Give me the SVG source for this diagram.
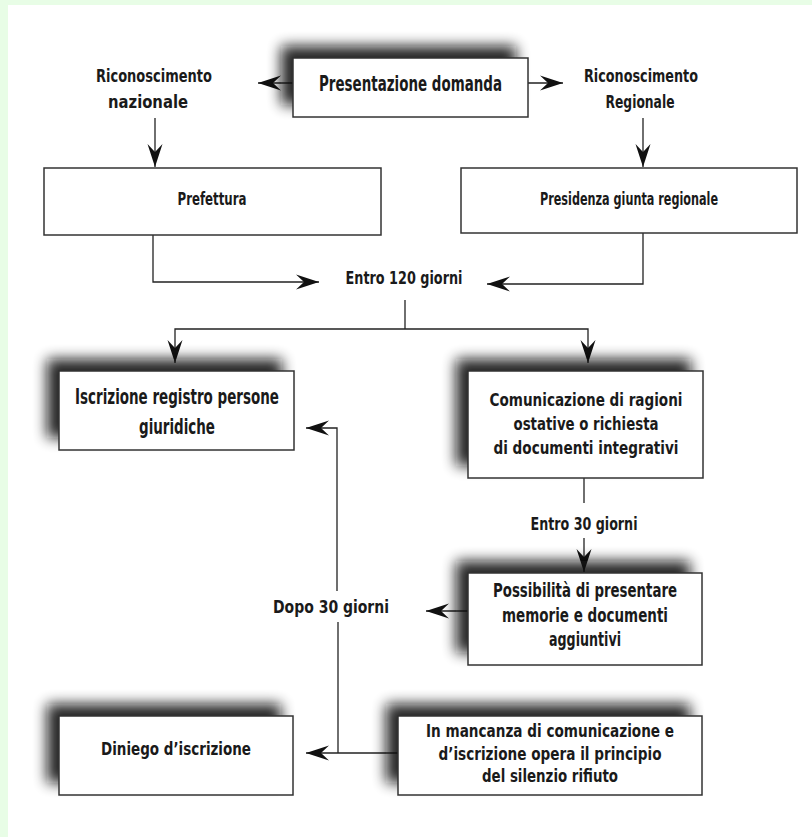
<svg xmlns="http://www.w3.org/2000/svg" width="812" height="837" viewBox="0 0 812 837">
<style>
.t{font-family:"DejaVu Sans","Liberation Sans",sans-serif;font-weight:bold;fill:#1a1a1a;text-anchor:middle}
.box{fill:#fff;stroke:#333;stroke-width:1.5}
.sh{fill:#111;opacity:0.9}
.c{fill:none;stroke:#222;stroke-width:1.3}
.a{marker-end:url(#arr)}
</style>
<defs>
<filter id="blur" filterUnits="userSpaceOnUse" x="0" y="0" width="812" height="837"><feGaussianBlur stdDeviation="7"/></filter>
<marker id="arr" markerUnits="userSpaceOnUse" markerWidth="28" markerHeight="20" viewBox="-25 -10 27 20" refX="0" refY="0" orient="auto">
<path d="M0,0 L-23,-7.5 L-15,0 L-23,7.5 Z" fill="#111"/>
</marker>
</defs>
<rect x="0" y="0" width="812" height="837" fill="#e8fde6"/>
<rect x="8" y="5" width="804" height="832" fill="#fff"/>

<g id="connectors">
<path class="c a" d="M293,83 H258"/>
<path class="c a" d="M528,83 H563"/>
<path class="c a" d="M155,118 V167"/>
<path class="c a" d="M643,118 V167"/>
<path class="c a" d="M153,235 V282 H319"/>
<path class="c a" d="M643,233 V284 H487"/>
<path class="c" d="M405,300 V329"/>
<path class="c a" d="M405,329 H175 V363"/>
<path class="c a" d="M405,329 H588 V363"/>
<path class="c" d="M584,478 V503"/>
<path class="c a" d="M584,538 V572"/>
<path class="c a" d="M468,611 H426"/>
<path class="c a" d="M337,591 V428 H306"/>
<path class="c" d="M338,622 V753"/>
<path class="c a" d="M398,753 H306"/>
</g>

<g id="presentazione">
<rect class="sh" x="281" y="46" width="235" height="59" filter="url(#blur)"/>
<rect class="box" x="293" y="58" width="235" height="59"/>
<text class="t" x="410.5" y="91" font-size="21.5" textLength="183" lengthAdjust="spacingAndGlyphs">Presentazione domanda</text>
</g>

<g id="ric-nazionale">
<text class="t" x="154" y="82" font-size="17.5" textLength="116" lengthAdjust="spacingAndGlyphs">Riconoscimento</text>
<text class="t" x="148" y="108" font-size="17.5" textLength="80" lengthAdjust="spacingAndGlyphs">nazionale</text>
</g>

<g id="ric-regionale">
<text class="t" x="641" y="82" font-size="17.5" textLength="114" lengthAdjust="spacingAndGlyphs">Riconoscimento</text>
<text class="t" x="640" y="108" font-size="17.5" textLength="69" lengthAdjust="spacingAndGlyphs">Regionale</text>
</g>

<g id="prefettura">
<rect class="box" x="44" y="168" width="337" height="67"/>
<text class="t" x="212" y="205" font-size="17" textLength="69" lengthAdjust="spacingAndGlyphs">Prefettura</text>
</g>

<g id="presidenza">
<rect class="box" x="461" y="168" width="336" height="65"/>
<text class="t" x="629" y="205" font-size="17" textLength="178" lengthAdjust="spacingAndGlyphs">Presidenza giunta regionale</text>
</g>

<g id="entro120">
<text class="t" x="404" y="284" font-size="18.5" textLength="117" lengthAdjust="spacingAndGlyphs">Entro 120 giorni</text>
</g>

<g id="iscrizione">
<rect class="sh" x="47" y="359" width="235" height="79" filter="url(#blur)"/>
<rect class="box" x="59" y="371" width="235" height="79"/>
<text class="t" x="177" y="404" font-size="20.5" textLength="204" lengthAdjust="spacingAndGlyphs">Iscrizione registro persone</text>
<text class="t" x="177" y="434" font-size="20.5" textLength="76" lengthAdjust="spacingAndGlyphs">giuridiche</text>
</g>

<g id="comunicazione">
<rect class="sh" x="456" y="359" width="235" height="107" filter="url(#blur)"/>
<rect class="box" x="468" y="371" width="235" height="107"/>
<text class="t" x="586" y="406" font-size="18" textLength="193" lengthAdjust="spacingAndGlyphs">Comunicazione di ragioni</text>
<text class="t" x="586" y="430" font-size="18" textLength="145" lengthAdjust="spacingAndGlyphs">ostative o richiesta</text>
<text class="t" x="586" y="454" font-size="18" textLength="185" lengthAdjust="spacingAndGlyphs">di documenti integrativi</text>
</g>

<g id="entro30">
<text class="t" x="584" y="530" font-size="18" textLength="107" lengthAdjust="spacingAndGlyphs">Entro 30 giorni</text>
</g>

<g id="possibilita">
<rect class="sh" x="456" y="561" width="234" height="92" filter="url(#blur)"/>
<rect class="box" x="468" y="573" width="234" height="92"/>
<text class="t" x="585" y="597" font-size="19.5" textLength="184" lengthAdjust="spacingAndGlyphs">Possibilità di presentare</text>
<text class="t" x="585" y="622" font-size="19.5" textLength="166" lengthAdjust="spacingAndGlyphs">memorie e documenti</text>
<text class="t" x="585" y="646" font-size="19.5" textLength="72" lengthAdjust="spacingAndGlyphs">aggiuntivi</text>
</g>

<g id="dopo30">
<text class="t" x="331" y="613" font-size="18" textLength="116" lengthAdjust="spacingAndGlyphs">Dopo 30 giorni</text>
</g>

<g id="diniego">
<rect class="sh" x="47" y="704" width="234" height="79" filter="url(#blur)"/>
<rect class="box" x="59" y="716" width="234" height="79"/>
<text class="t" x="176" y="755" font-size="18.5" textLength="150" lengthAdjust="spacingAndGlyphs">Diniego d’iscrizione</text>
</g>

<g id="mancanza">
<rect class="sh" x="386" y="704" width="304" height="79" filter="url(#blur)"/>
<rect class="box" x="398" y="716" width="304" height="79"/>
<text class="t" x="550" y="737" font-size="18.5" textLength="248" lengthAdjust="spacingAndGlyphs">In mancanza di comunicazione e</text>
<text class="t" x="550" y="760" font-size="18.5" textLength="223" lengthAdjust="spacingAndGlyphs">d’iscrizione opera il principio</text>
<text class="t" x="550" y="782" font-size="18.5" textLength="136" lengthAdjust="spacingAndGlyphs">del silenzio rifiuto</text>
</g>
</svg>
